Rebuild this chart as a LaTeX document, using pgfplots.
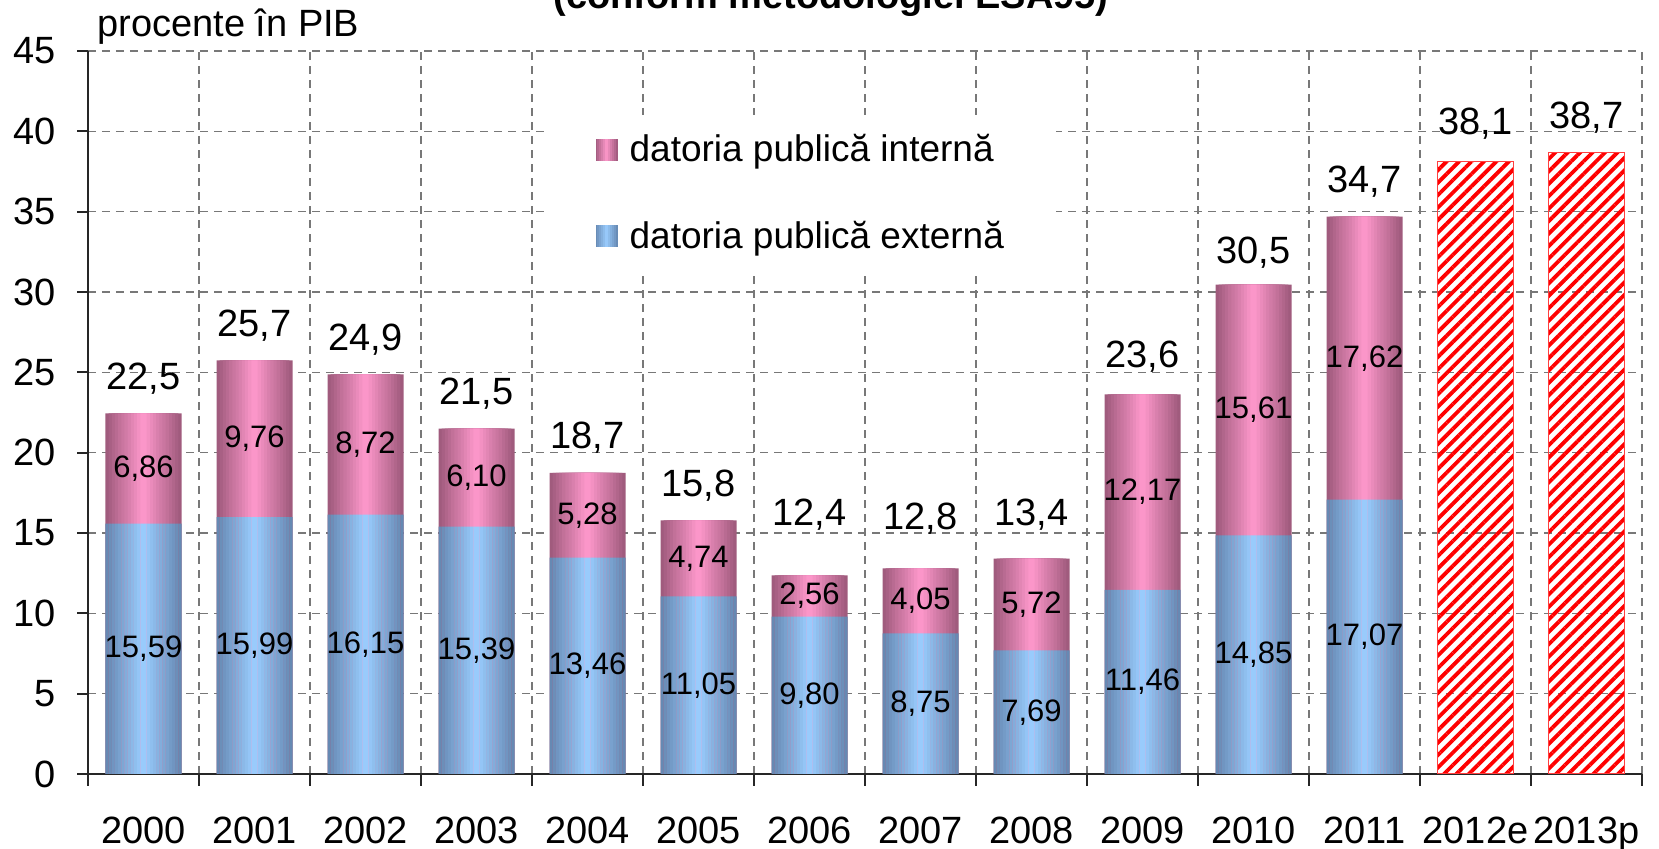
\documentclass[border=0pt]{standalone}
\usepackage{fontspec}
\setmainfont{Liberation Sans}
\usepackage{pgfplots}
\usepackage{pgfplotstable}
\pgfplotsset{compat=1.18}
\usetikzlibrary{patterns.meta}

\definecolor{blueEdge}{RGB}{100,134,176}
\definecolor{blueMid}{RGB}{155,206,255}
\definecolor{pinkEdge}{RGB}{156,88,122}
\definecolor{pinkMid}{RGB}{255,153,204}
\definecolor{gridgray}{RGB}{120,120,120}

\pgfplotstableread{
x ext int
0 15.59 6.86
1 15.99 9.76
2 16.15 8.72
3 15.39 6.10
4 13.46 5.28
5 11.05 4.74
6 9.80 2.56
7 8.75 4.05
8 7.69 5.72
9 11.46 12.17
10 14.85 15.61
11 17.07 17.62
}\debttable

\pgfplotstableread{
x y lab
0 7.795 15,59
1 7.995 15,99
2 8.075 16,15
3 7.695 15,39
4 6.73 13,46
5 5.525 11,05
6 4.9 9,80
7 4.375 8,75
8 3.845 7,69
9 5.73 11,46
10 7.425 14,85
11 8.535 17,07
}\extlab

\pgfplotstableread{
x y lab
0 19.02 6,86
1 20.87 9,76
2 20.51 8,72
3 18.44 6,10
4 16.10 5,28
5 13.42 4,74
6 11.08 2,56
7 10.775 4,05
8 10.55 5,72
9 17.545 12,17
10 22.655 15,61
11 25.88 17,62
}\intlab

\pgfplotstableread{
x y lab
0 22.45 22,5
1 25.75 25,7
2 24.87 24,9
3 21.49 21,5
4 18.74 18,7
5 15.79 15,8
6 14.0 12,4
7 13.7 12,8
8 14.0 13,4
9 23.8 23,6
10 30.3 30,5
11 34.69 34,7
12 38.3 38,1
13 38.7 38,7
}\totlab

\pgfplotstableread{
x y
12 38.1
13 38.7
}\forecast

\pgfplotsset{
  common/.style={
    scale only axis, width=777pt, height=361.5pt,
    at={(0,0)}, anchor=south west,
    xmin=-0.5, xmax=13.5, ymin=0, ymax=45,
  },
}

\begin{document}
\begin{tikzpicture}
\begin{axis}[common,
  axis x line*=bottom, axis y line*=left,
  axis line style={-, black!85, line width=0.9pt},
  /pgf/number format/assume math mode=true,
  ytick={0,5,...,45},
  xtick={0,...,13},
  xticklabels={2000,2001,2002,2003,2004,2005,2006,2007,2008,2009,2010,2011,2012e,2013p},
  major x tick style={draw=none},
  minor xtick={-0.5,0.5,...,13.5},
  tick style={black!85, line width=0.9pt},
  minor tick style={black!85, line width=0.9pt},
  tick align=outside,
  major tick length=5.5pt, minor tick length=6pt,
  ymajorgrids, xminorgrids,
  major grid style={gridgray, dash pattern=on 4pt off 3pt, line width=0.7pt},
  minor grid style={gridgray, dash pattern=on 4pt off 3pt, line width=0.7pt},
  tick label style={font=\fontsize{19}{22}\selectfont},
  yticklabel style={xshift=-7pt},
  xticklabel style={anchor=base, yshift=-29.5pt},
  legend style={at={(0.2955,0.9126)}, anchor=north west, draw=none, fill=white,
    font=\fontsize{18.5}{22}\selectfont, row sep=24pt, inner xsep=24pt, inner ysep=8pt,
    legend cell align=left},
]
\addlegendimage{legend image code/.code={
  \foreach \k in {0,...,5}{\fill[draw=none, pinkMid!\fpeval{round(100*(\k+0.5)/6)}!pinkEdge] ({\k*0.9167pt},-5.5pt) rectangle ({11pt-\k*0.9167pt},5.5pt);}
  \path[draw=none, fill=none] (0pt,0pt) -- (15pt,0pt);}}
\addlegendentry{datoria publică internă}
\addlegendimage{legend image code/.code={
  \foreach \k in {0,...,5}{\fill[draw=none, blueMid!\fpeval{round(100*(\k+0.5)/6)}!blueEdge] ({\k*0.9167pt},-5.5pt) rectangle ({11pt-\k*0.9167pt},5.5pt);}
  \path[draw=none, fill=none] (0pt,0pt) -- (15pt,0pt);}}
\addlegendentry{datoria publică externă}
\end{axis}

\begin{axis}[common, hide axis]
\pgfplotsinvokeforeach{0,...,11}{
  \addplot[ybar, bar width=\fpeval{38*(12-#1)/12}pt, draw=none,
    fill=pinkMid!\fpeval{round(100*(#1+0.5)/12)}!pinkEdge]
    table[x=x, y expr=\thisrow{ext}+\thisrow{int}] {\debttable};
  \addplot[ybar, bar width=\fpeval{38*(12-#1)/12}pt, draw=none,
    fill=blueMid!\fpeval{round(100*(#1+0.5)/12)}!blueEdge]
    table[x=x, y=ext] {\debttable};
}
\addplot[ybar, bar width=38pt, draw=red!75, line width=0.5pt,
  pattern={Lines[angle=45, distance=4.4pt, line width=1.9pt]}, pattern color=red]
  table[x=x, y=y] {\forecast};
\addplot[only marks, mark=none, point meta=explicit symbolic, nodes near coords,
  nodes near coords style={anchor=center, font=\fontsize{15.5}{18}\selectfont}]
  table[x=x, y=y, meta=lab] {\extlab};
\addplot[only marks, mark=none, point meta=explicit symbolic, nodes near coords,
  nodes near coords style={anchor=center, font=\fontsize{15.5}{18}\selectfont}]
  table[x=x, y=y, meta=lab] {\intlab};
\addplot[only marks, mark=none, point meta=explicit symbolic, nodes near coords,
  nodes near coords style={anchor=base, yshift=12pt, font=\fontsize{19}{22}\selectfont}]
  table[x=x, y=y, meta=lab] {\totlab};
\end{axis}

\node[anchor=base west, inner sep=0pt, font=\fontsize{19}{22}\selectfont] at (4.5pt,368.5pt) {procente în PIB};
\node[anchor=base, font=\bfseries\fontsize{19}{22}\selectfont] at (371.5pt,382.5pt) {(conform metodologiei ESA95)};

\pgfresetboundingbox
\useasboundingbox (-44pt,-37.5pt) rectangle (785.5pt,387pt);
\end{tikzpicture}
\end{document}
